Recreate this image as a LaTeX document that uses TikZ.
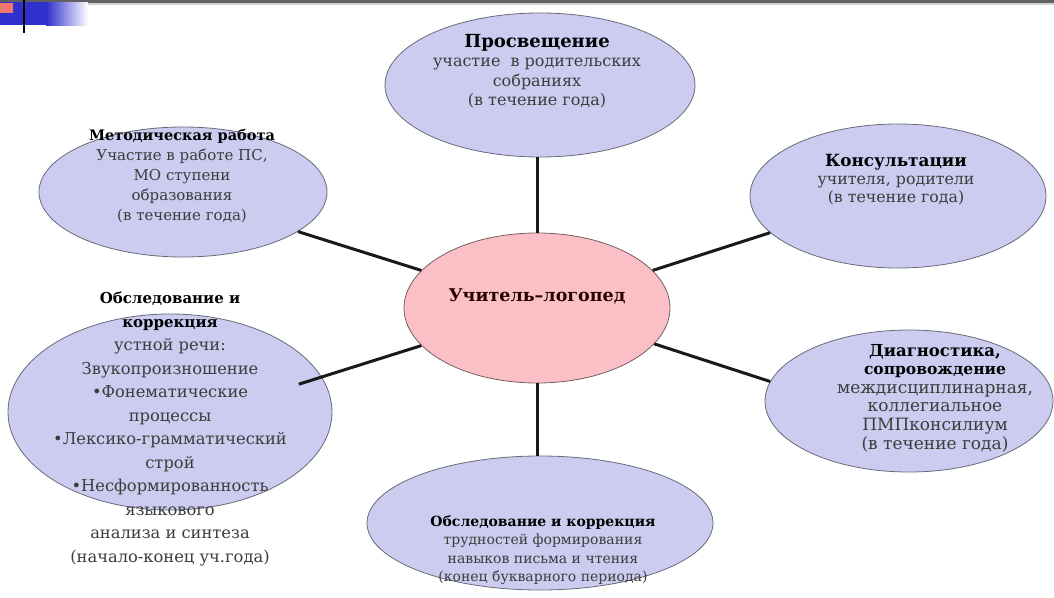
\documentclass[tikz,border=0pt]{standalone}
\usepackage{fontspec}
\setmainfont{DejaVu Serif}
\usetikzlibrary{shapes.geometric,calc}
\definecolor{lav}{RGB}{204,204,240}
\definecolor{lavborder}{RGB}{105,105,120}
\definecolor{pinkfill}{RGB}{250,192,197}
\definecolor{pinkborder}{RGB}{120,95,95}
\definecolor{decoblue}{RGB}{48,48,205}
\definecolor{decored}{RGB}{240,120,110}
\definecolor{bodytext}{RGB}{60,60,60}
\newcommand{\ttlfont}[2]{{\fontsize{#1}{#1}\selectfont\bfseries\color{black}#2}}
\begin{document}
\begin{tikzpicture}[x=1pt,y=-1pt,
  bubble/.style={ellipse, draw=lavborder, fill=lav, line width=0.8pt, inner sep=0pt},
  hub/.style={ellipse, draw=pinkborder, fill=pinkfill, line width=0.8pt, inner sep=0pt},
  link/.style={line width=3pt, black!90},
  lbl/.style={align=center, inner sep=0pt, text=bodytext, font=\fontsize{14}{19.5}\selectfont}
]
\useasboundingbox (0,0) rectangle (1054,597);
% top decoration
\fill[gray!75!black] (0,0) rectangle (1054,3);
\fill[gray!35] (0,3) rectangle (1054,5);
\fill[decoblue] (0,2) rectangle (46,25);
\shade[left color=decoblue, right color=white] (46,2) rectangle (88,25);
\fill[decored] (0,3) rectangle (13,13);
\draw[line width=2pt, black] (24,0) -- (24,33);

% ellipses
\node[bubble, minimum width=310pt, minimum height=144pt] (top) at (540,85) {};
\node[bubble, minimum width=288pt, minimum height=130pt] (tl) at (183,192) {};
\node[bubble, minimum width=296pt, minimum height=144pt] (tr) at (898,196) {};
\node[bubble, minimum width=324pt, minimum height=196pt] (lb) at (170,412) {};
\node[bubble, minimum width=288pt, minimum height=142pt] (br) at (909,401) {};
\node[bubble, minimum width=346pt, minimum height=134pt] (bot) at (540,523) {};
\node[hub, minimum width=266pt, minimum height=150pt] (c) at (537,308) {};

% connectors
\draw[link] (c.north) -- (c.north |- top.south);
\draw[link] (c.south) -- (c.south |- bot.north);
\draw[link] (c.162) -- (tl.341.8);
\draw[link] (c.18.6) -- (tr.196);
\draw[link, shorten >=-24pt] (c.198) -- (lb.13.6);
\draw[link] (c.343) -- (br.172.3);

% texts
\node[lbl, font=\fontsize{16}{19.5}\selectfont] (ttop) at (537,71) {\ttlfont{18}{Просвещение}\\участие \ в родительских\\собраниях\\(в течение года)};
\node[lbl, font=\fontsize{15}{20}\selectfont] (ttl) at (182,176) {\ttlfont{14.5}{Методическая работа}\\Участие в работе ПС,\\МО ступени\\образования\\(в течение года)};
\node[lbl, font=\fontsize{15.8}{18}\selectfont] (ttr) at (896,180) {\ttlfont{16.8}{Консультации}\\учителя, родители\\(в течение года)};
\node[lbl, font=\fontsize{16.3}{23.5}\selectfont] (tlb) at (170,429) {\ttlfont{15}{Обследование и}\\\ttlfont{15}{коррекция}\\устной речи:\\Звукопроизношение\\•Фонематические\\процессы\\•Лексико-грамматический\\строй\\•Несформированность\\языкового\\анализа и синтеза\\(начало-конец уч.года)};
\node[lbl, font=\fontsize{17}{18.6}\selectfont] (tbr) at (935,398) {\ttlfont{16.5}{Диагностика,}\\\ttlfont{15.5}{сопровождение}\\междисциплинарная,\\коллегиальное\\ПМПконсилиум\\(в течение года)};
\node[lbl, font=\fontsize{14}{18.5}\selectfont] (tbot) at (543,550) {\ttlfont{14}{Обследование и коррекция}\\трудностей формирования\\навыков письма и чтения\\(конец букварного периода)};
\node[lbl, text=black!85!red, font=\fontsize{17.5}{18}\selectfont\bfseries] (tc) at (537,296) {Учитель–логопед};
\end{tikzpicture}
\end{document}
